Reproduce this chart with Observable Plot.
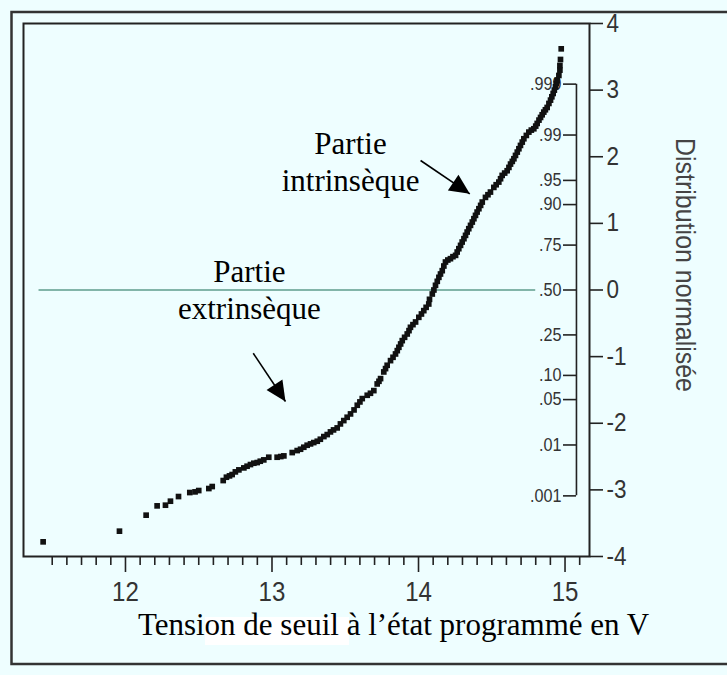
<!DOCTYPE html>
<html><head><meta charset="utf-8">
<script src="https://cdn.jsdelivr.net/npm/d3@7"></script>
<script src="https://cdn.jsdelivr.net/npm/@observablehq/plot@0.6"></script>
<style>
html,body{margin:0;padding:0;background:#eefeff;}
svg{display:block;}
</style></head><body><div id="chart"></div>
<script>
// Threshold voltage (V) of each plotted point, and its normal score
const volts = [11.438,11.959,12.141,12.216,12.273,12.307,12.362,12.439,12.475,12.500,12.569,12.592,
12.667,12.689,12.71,12.728,12.75,12.774,12.808,12.83,12.853,12.876,12.899,12.92,12.944,12.978,13.035,13.06,13.081,13.138,13.172,13.195,13.217,13.24,13.263,13.285,13.309,13.33,13.354,13.377,13.399,13.42,13.445,13.467,13.490,13.513,13.536,13.56,13.582,13.60,13.616,13.650,13.672,13.695,13.718,13.73,13.741,13.763,13.775,13.786,13.809,13.826,13.843,13.855,13.866,13.878,13.889,13.905,13.923,13.935,13.945,13.962,13.980,14.002,14.02,14.036,14.052,14.070,14.075,14.094,14.105,14.116,14.128,14.139,14.15,14.162,14.173,14.184,14.20,14.218,14.235,14.253,14.264,14.275,14.287,14.298,14.31,14.321,14.332,14.343,14.355,14.367,14.378,14.389,14.40,14.412,14.424,14.435,14.457,14.474,14.491,14.514,14.53,14.548,14.56,14.571,14.588,14.605,14.617,14.628,14.640,14.651,14.662,14.674,14.685,14.696,14.708,14.719,14.736,14.753,14.770,14.787,14.80,14.810,14.822,14.833,14.844,14.855,14.866,14.878,14.89,14.901,14.91,14.919,14.927,14.935,14.94,14.946,14.958,14.965,14.965,14.969,14.974];
const zScores = [-3.78,-3.62,-3.38,-3.24,-3.23,-3.17,-3.10,-3.04,-3.03,-3.01,-2.98,-2.95,
-2.86,-2.81,-2.79,-2.77,-2.73,-2.70,-2.67,-2.645,-2.62,-2.60,-2.59,-2.57,-2.55,-2.51,-2.51,-2.50,-2.49,-2.44,-2.41,-2.39,-2.36,-2.33,-2.31,-2.29,-2.27,-2.24,-2.20,-2.17,-2.13,-2.10,-2.07,-2.01,-1.96,-1.91,-1.86,-1.80,-1.73,-1.68,-1.63,-1.58,-1.55,-1.51,-1.41,-1.37,-1.33,-1.23,-1.18,-1.13,-1.06,-1.01,-0.96,-0.91,-0.86,-0.81,-0.76,-0.71,-0.66,-0.61,-0.56,-0.52,-0.48,-0.41,-0.36,-0.31,-0.26,-0.21,-0.14,-0.06,0.0,0.07,0.13,0.19,0.24,0.29,0.36,0.42,0.45,0.47,0.50,0.52,0.57,0.62,0.67,0.72,0.77,0.82,0.87,0.92,0.97,1.02,1.07,1.12,1.17,1.22,1.27,1.32,1.39,1.43,1.47,1.54,1.58,1.62,1.67,1.72,1.755,1.79,1.84,1.89,1.93,1.97,2.02,2.07,2.12,2.17,2.22,2.27,2.32,2.37,2.40,2.42,2.46,2.50,2.55,2.59,2.63,2.67,2.705,2.74,2.80,2.85,2.90,2.95,3.0,3.05,3.10,3.15,3.22,3.30,3.37,3.46,3.62];

const xMajorTicks = [12, 13, 14, 15];
const xMinorTicks = [11.5,11.6,11.7,11.8,11.9,12.1,12.2,12.3,12.4,12.5,12.6,12.7,12.8,12.9,13.1,13.2,13.3,13.4,13.5,13.6,13.7,13.8,13.9,14.1,14.2,14.3,14.4,14.5,14.6,14.7,14.8,14.9,15.1];
const zTicks = [-4, -3, -2, -1, 0, 1, 2, 3, 4];
const probLabels = [".999", ".99", ".95", ".90", ".75", ".50", ".25", ".10", ".05", ".01", ".001"];
const probZ = [3.09, 2.326, 1.645, 1.282, 0.674, 0, -0.674, -1.282, -1.645, -2.326, -3.09];
const probAxisAt = [15.078];
const refLine = [{z: 0, from: 11.41, to: 14.80}];
const notes = [
  {text: "Partie\nintrinsèque", V: 13.536, z: 1.944},
  {text: "Partie\nextrinsèque", V: 12.846, z: 0.023}
];
const arrows = [
  {V1: 14.014, z1: 1.944, V2: 14.350, z2: 1.444, angle: 123.8},
  {V1: 12.872, z1: -0.949, V2: 13.092, z2: -1.674, angle: 146.7}
];
const xTitle = "Tension de seuil à l’état programmé en V";
const yTitle = "Distribution normalisée";

const points = volts.map((v, i) => ({V: v, z: zScores[i]}));
const probLabelByZ = new Map(probZ.map((z, i) => [z, probLabels[i]]));
const sans = "'Liberation Sans',Arial,sans-serif";
const serif = "'Liberation Serif','Times New Roman',serif";
const arrowHead = {draw(ctx) { ctx.moveTo(0, 0); ctx.lineTo(-9.5, 20); ctx.lineTo(9.5, 20); ctx.closePath(); }};

const chart = Plot.plot({
  width: 727, height: 675,
  marginLeft: 23, marginRight: 138, marginTop: 23, marginBottom: 119,
  x: {domain: [11.304, 15.167], label: null},
  y: {domain: [-4, 4], label: null},
  style: {background: "#eefeff", color: "#222"},
  marks: [
    Plot.ruleY(refLine, {y: "z", x1: "from", x2: "to", stroke: "#5e9c8c", strokeWidth: 1.5}),
    Plot.frame({stroke: "#222", strokeWidth: 2}),
    Plot.axisX(xMinorTicks, {tickSize: 9, tickFormat: () => "", strokeWidth: 1.6, label: null}),
    Plot.axisX(xMajorTicks, {tickSize: 16, tickPadding: 9, fontSize: 28, fontFamily: sans, fill: "#333", strokeWidth: 1.6, tickFormat: d => String(d), label: null}),
    Plot.axisY(zTicks, {anchor: "right", tickSize: 13, tickPadding: 4, fontSize: 25, fontFamily: sans, fill: "#333", strokeWidth: 1.6, tickFormat: d => String(d), label: null}),
    Plot.ruleX(probAxisAt, {y1: probZ[probZ.length - 1], y2: probZ[0], stroke: "#222", strokeWidth: 1.6}),
    Plot.axisY(probZ, {anchor: "left", dx: 553, tickSize: 13, tickPadding: 2, fontSize: 18, fontFamily: sans, fill: "#333", strokeWidth: 1.6, tickFormat: d => probLabelByZ.get(d), label: null}),
    Plot.dot(points, {x: "V", y: "z", symbol: "square", r: 3.2, fill: "#111", stroke: "none"}),
    Plot.text(notes, {x: "V", y: "z", text: "text", fontFamily: serif, fontSize: 31, lineHeight: 1.22, fill: "#000"}),
    Plot.link(arrows, {x1: "V1", y1: "z1", x2: "V2", y2: "z2", stroke: "#000", strokeWidth: 1.6}),
    Plot.dot(arrows, {x: "V2", y: "z2", symbol: arrowHead, rotate: "angle", fill: "#000", stroke: "none"})
  ]
});

// condense the tick-label glyphs horizontally, like the narrow font of the original
function condense(selector, s) {
  chart.querySelectorAll(selector).forEach(el => {
    const x = +(el.getAttribute("x") || 0);
    const t = el.getAttribute("transform") || "";
    el.setAttribute("transform", `${t} translate(${x},0) scale(${s},1) translate(${-x},0)`);
  });
}
condense('g[aria-label="x-axis tick label"] text', 0.86);
condense('g[aria-label="y-axis tick label"] text', 0.9);

const svg = d3.select(chart);
svg.append("rect").attr("x", 11.5).attr("y", 12).attr("width", 800).attr("height", 652)
  .attr("fill", "none").attr("stroke", "#333").attr("stroke-width", 2.5);
svg.append("rect").attr("x", 205).attr("y", 617).attr("width", 144).attr("height", 28).attr("fill", "#fff");
svg.append("text").attr("x", 393.5).attr("y", 635).attr("text-anchor", "middle")
  .attr("font-family", serif).attr("font-size", 31).attr("fill", "#000").text(xTitle);
svg.append("text").attr("transform", "translate(683,265) rotate(90)").attr("text-anchor", "middle")
  .attr("dominant-baseline", "middle").attr("font-family", sans).attr("font-size", 28)
  .attr("textLength", 254).attr("lengthAdjust", "spacingAndGlyphs").attr("fill", "#444").text(yTitle);
document.getElementById("chart").appendChild(chart);
</script></body></html>
